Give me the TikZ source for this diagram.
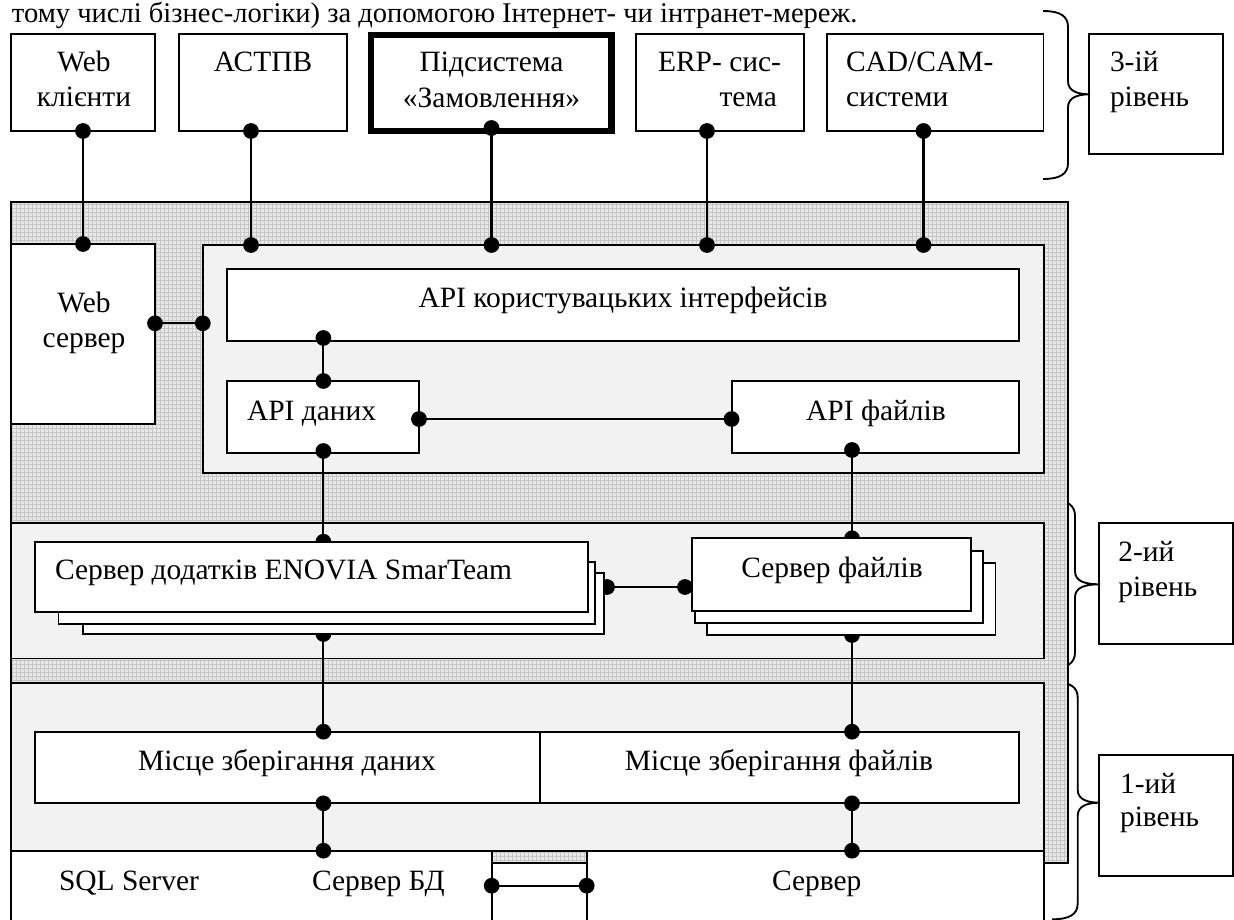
\documentclass[tikz,border=0pt]{standalone}
\usepackage{fontspec}
\setmainfont{Liberation Serif}
\usetikzlibrary{fit,patterns}
\newcommand\lvlbrace[6]{%
  \draw[bracel] (#1,#4) .. controls (#2-8,#4) and (#2,#4+5) .. (#2,#4+16)
    -- (#2,#5-13) .. controls (#2,#5-3) and (#2+10,#5) .. (#3,#5)
    .. controls (#2+10,#5) and (#2,#5+3) .. (#2,#5+13)
    -- (#2,#6-16) .. controls (#2,#6-5) and (#2-8,#6) .. (#1,#6);}
\begin{document}
\begin{tikzpicture}[x=0.75pt,y=-0.75pt,
  every node/.style={inner sep=0pt, outer sep=0pt, font=\fontsize{22.1}{26.5}\selectfont},
  box/.style={draw, line width=1.4pt, fill=white},
  thickbox/.style={draw, line width=5.2pt, fill=white},
  layerbg/.style={draw, line width=1.4pt, fill=black!5},
  outerbg/.style={draw, line width=1.4pt, preaction={fill=black!9}, pattern=grid, pattern color=black!22},
  jdot/.style={circle, fill=black, minimum size=11.8pt},
  wire/.style={line width=1.6pt},
  bracel/.style={line width=1.4pt},
  lbl/.style={anchor=base},
  lbll/.style={anchor=base west},
  lblr/.style={anchor=base east},
]
\useasboundingbox (0,0) rectangle (1234,920);
\clip (0,0) rectangle (1234,920);

% line of text at the top
\node[lbll, font=\fontsize{21.4}{25.7}\selectfont] (intro) at (12,23) {тому числі бізнес-логіки) за допомогою Інтернет- чи інтранет-мереж.};

% ---------- level 3 boxes ----------
\node[box, fit={(10.7,34) (155,131)}] (webc) {};
\node[box, fit={(178.7,34) (347,131)}] (astpv) {};
\node[thickbox, fit={(371,35) (611.5,131)}] (zam) {};
\node[box, fit={(635.6,34) (804,131)}] (erp) {};
\node[box, fit={(827,34) (1043.5,131)}] (cad) {};

% ---------- level boxes at right ----------
\node[box, fit={(1089.3,34.3) (1222.7,154.3)}] (lvl3) {};
\node[box, fit={(1099.3,523.3) (1232.7,644)}] (lvl2) {};
\node[box, fit={(1099.3,755) (1232.7,876)}] (lvl1) {};
\lvlbrace{1043}{1068}{1090}{11}{94.3}{179}
\lvlbrace{1051.7}{1075}{1100}{500}{584.3}{668.3}
\lvlbrace{1052}{1077.7}{1100}{681.7}{802.7}{919.3}

% ---------- main block ----------
\path[outerbg] (10.7,202) rectangle (1068.3,863.3);
\node[box, fit={(10.7,244) (155,424)}] (websrv) {};
\node[layerbg, fit={(202.8,245) (1043.6,472.7)}] (apps) {};
\node[box, fit={(227,269) (1019,340.7)}] (apiui) {};
\node[box, fit={(227,381) (419,453)}] (apid) {};
\node[box, fit={(731.6,381) (1019,453)}] (apif) {};
\node[layerbg, fit={(10.7,523.3) (1043.6,658.5)}] (layer2) {};
\node[layerbg, fit={(10.7,683.3) (1043.6,850.7)}] (layer1) {};
\node[box, fit={(34.8,731.7) (539.7,803.3)}] (stord) {};
\node[box, fit={(539.7,731.7) (1019,803.3)}] (storf) {};
\node[box, fit={(10.7,850.7) (491.7,940)}] (dbsrv) {};
\node[box, fit={(586.7,850.7) (1043.6,940)}] (fsrv) {};

% ---------- connectors ----------
\node[jdot] (d1a) at (83,131) {};     \node[jdot] (d1b) at (83,244) {};
\node[jdot] (d2a) at (251,131) {};    \node[jdot] (d2b) at (251,245) {};
\node[jdot] (d3a) at (491.5,128) {};  \node[jdot] (d3b) at (491.5,245) {};
\node[jdot] (d4a) at (707,131) {};    \node[jdot] (d4b) at (707,245) {};
\node[jdot] (d5a) at (923.5,131) {};  \node[jdot] (d5b) at (923.5,245) {};
\node[jdot] (d6a) at (155,323.3) {};  \node[jdot] (d6b) at (202.8,323.3) {};
\node[jdot] (d7a) at (323.4,338) {};  \node[jdot] (d7b) at (323.4,381) {};
\node[jdot] (d8a) at (419,419) {};    \node[jdot] (d8b) at (731.6,419) {};
\node[jdot] (d9a) at (323.4,451) {};  \node[jdot] (d9b) at (323.4,541.7) {};
\node[jdot] (d10a) at (852,450) {};   \node[jdot] (d10b) at (852,538.3) {};
\node[jdot] (d11a) at (607,587) {};   \node[jdot] (d11b) at (685,587) {};
\node[jdot] (d12a) at (323.4,634) {}; \node[jdot] (d12b) at (323.4,731.7) {};
\node[jdot] (d13a) at (852,635) {};   \node[jdot] (d13b) at (852,731.7) {};
\node[jdot] (d14a) at (323.4,803.3) {}; \node[jdot] (d14b) at (323.4,850.7) {};
\node[jdot] (d15a) at (852,803.3) {};   \node[jdot] (d15b) at (852,850.7) {};
\node[jdot] (d16a) at (491.7,885.7) {}; \node[jdot] (d16b) at (586.7,885.7) {};
\foreach \n in {1,...,16} {\draw[wire] (d\n a.center) -- (d\n b.center);}

% ---------- stacked servers ----------
\node[box, fit={(83,572.7) (603.8,634)}] (appsrv3) {};
\node[box, fit={(58.5,561.7) (595,624)}] (appsrv2) {};
\node[box, fit={(34.8,541.7) (588,612.3)}] (appsrv) {};
\node[box, fit={(707,562.7) (995.5,635)}] (filesrv3) {};
\node[box, fit={(695,551) (983,623.3)}] (filesrv2) {};
\node[box, fit={(692,538.3) (971,611)}] (filesrv) {};

% ---------- labels ----------
\node[lbl] (t1) at (84,72) {Web};
\node[lbl] (t2) at (84,107) {клієнти};
\node[lbl] (t3) at (263,72) {АСТПВ};
\node[lbl] (t4) at (491.5,72) {Підсистема};
\node[lbl] (t5) at (491.5,108) {«Замовлення»};
\node[lblr] (t6) at (781,72) {ERP- сис-};
\node[lblr] (t7) at (777,107) {тема};
\node[lbll] (t8) at (846,72) {CAD/CAM-};
\node[lbll] (t9) at (846,107) {системи};
\node[lbll] (t10) at (1110,72) {3-ій};
\node[lbll] (t11) at (1110,107) {рівень};
\node[lbl] (t12) at (84,312) {Web};
\node[lbl] (t13) at (84,347) {сервер};
\node[lbl] (t14) at (623,307) {API користувацьких інтерфейсів};
\node[lbll] (t15) at (247,420) {API даних};
\node[lbl] (t16) at (876,420) {API файлів};
\node[lbll] (t17) at (55,579) {Сервер додатків ENOVIA SmarTeam};
\node[lbl] (t18) at (832,577) {Сервер файлів};
\node[lbll] (t19) at (1118.3,561.7) {2-ий};
\node[lbll] (t20) at (1118.3,596.7) {рівень};
\node[lbl] (t21) at (287,770) {Місце зберігання даних};
\node[lbl] (t22) at (779,770) {Місце зберігання файлів};
\node[lbll] (t23) at (1120,793.3) {1-ий};
\node[lbll] (t24) at (1120,826.7) {рівень};
\node[lbll] (t25) at (59,890) {SQL Server};
\node[lbll] (t26) at (312,890) {Сервер БД};
\node[lbll] (t27) at (772,890) {Сервер};
\end{tikzpicture}
\end{document}
